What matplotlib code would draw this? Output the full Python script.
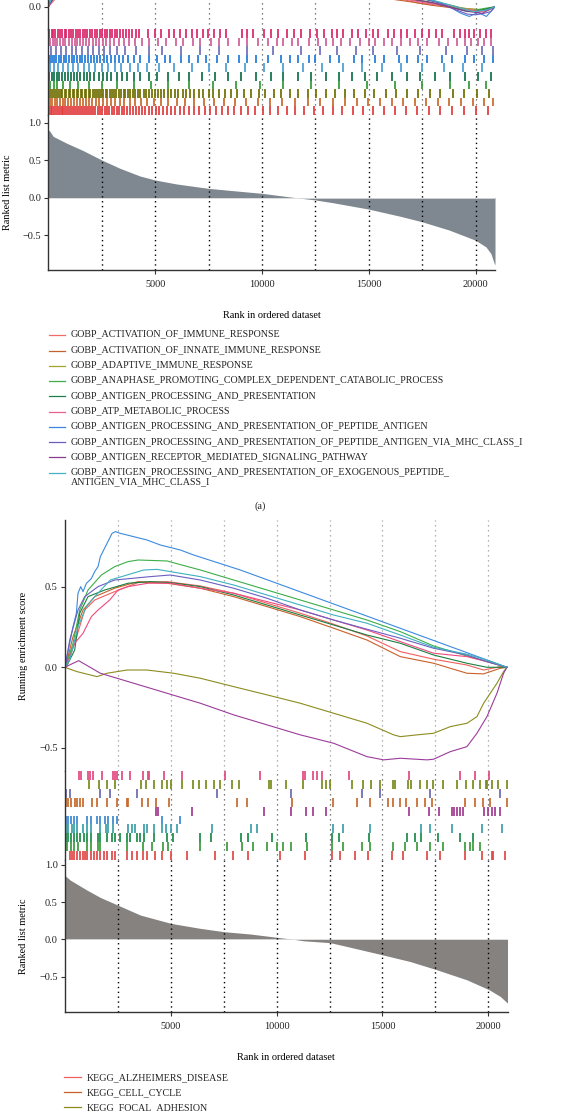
import matplotlib
matplotlib.use("Agg")
import matplotlib.pyplot as plt

plt.rcParams["font.family"] = ["Liberation Serif", "DejaVu Serif"]

W, H = 574, 1111
N_GENES = 20900
RANK_TICKS = [5000, 10000, 15000, 20000]
GUIDE_RANKS = [2500, 5000, 7500, 10000, 12500, 15000, 17500, 20000]

# ---------------- panel (a): GOBP ----------------
labels_a = [
    "GOBP_ACTIVATION_OF_IMMUNE_RESPONSE",
    "GOBP_ACTIVATION_OF_INNATE_IMMUNE_RESPONSE",
    "GOBP_ADAPTIVE_IMMUNE_RESPONSE",
    "GOBP_ANAPHASE_PROMOTING_COMPLEX_DEPENDENT_CATABOLIC_PROCESS",
    "GOBP_ANTIGEN_PROCESSING_AND_PRESENTATION",
    "GOBP_ATP_METABOLIC_PROCESS",
    "GOBP_ANTIGEN_PROCESSING_AND_PRESENTATION_OF_PEPTIDE_ANTIGEN",
    "GOBP_ANTIGEN_PROCESSING_AND_PRESENTATION_OF_PEPTIDE_ANTIGEN_VIA_MHC_CLASS_I",
    "GOBP_ANTIGEN_RECEPTOR_MEDIATED_SIGNALING_PATHWAY",
    "GOBP_ANTIGEN_PROCESSING_AND_PRESENTATION_OF_EXOGENOUS_PEPTIDE_\nANTIGEN_VIA_MHC_CLASS_I",
]
colors_a = ["#f26b6b", "#c4622d", "#a3a52a", "#3fae49", "#1b7f4b",
            "#ec5f93", "#3a87e0", "#6a5fc1", "#8b3a8f", "#42b3c4"]

# running enrichment score (rank, ES) -- only the tail is inside the picture
es_a_activation = [(0, 0), (900, 0.3), (3000, 0.5), (9000, 0.33), (14000, 0.13), (16400, 0.05),
                   (17300, 0.025), (18100, 0.012), (18900, 0.0), (19600, -0.012), (20300, -0.02), (20900, 0)]
es_a_innate = [(0, 0), (1000, 0.3), (3200, 0.49), (9000, 0.31), (14000, 0.12), (16200, 0.045),
               (17000, 0.03), (17900, 0.01), (18800, -0.005), (19700, -0.02), (20400, -0.025), (20900, 0)]
es_a_adaptive = [(0, 0), (1200, 0.25), (3500, 0.42), (10000, 0.24), (15000, 0.09), (17600, 0.03),
                 (18600, 0.008), (19500, -0.01), (20300, -0.018), (20900, 0)]
es_a_anaphase = [(0, 0), (1500, 0.4), (4000, 0.6), (11000, 0.3), (16000, 0.09), (18000, 0.035),
                 (19000, 0.005), (19800, -0.025), (20400, -0.01), (20900, 0)]
es_a_antigen = [(0, 0), (1500, 0.35), (3500, 0.55), (10500, 0.28), (16000, 0.07), (17800, 0.03),
                (18800, 0.0), (19600, -0.03), (20300, -0.02), (20900, 0)]
es_a_atp = [(0, 0), (2000, 0.3), (4500, 0.5), (11000, 0.25), (15800, 0.07), (17000, 0.04), (17800, 0.02),
            (18700, 0.012), (19500, -0.015), (20200, -0.03), (20600, -0.02), (20900, 0)]
es_a_peptide = [(0, 0), (1500, 0.72), (2800, 0.8), (12000, 0.35), (17000, 0.08), (18200, 0.03),
                (18900, -0.01), (19300, -0.04), (19700, -0.06), (20100, -0.035), (20500, -0.06), (20900, 0)]
es_a_mhc = [(0, 0), (1800, 0.55), (4000, 0.6), (12000, 0.3), (17000, 0.07), (18400, 0.02), (19100, -0.02),
            (19600, -0.045), (20000, -0.05), (20400, -0.04), (20700, -0.03), (20900, 0)]
es_a_receptor = [(0, 0), (2000, 0.45), (4000, 0.5), (12000, 0.25), (16500, 0.06), (18000, 0.025),
                 (19000, -0.01), (19700, -0.03), (20300, -0.04), (20900, 0)]
es_a_exogenous = [(0, 0), (1500, 0.5), (3500, 0.62), (12000, 0.3), (17000, 0.075), (18300, 0.03),
                  (19200, -0.005), (19900, -0.03), (20500, -0.02), (20900, 0)]
es_a = [es_a_activation, es_a_innate, es_a_adaptive, es_a_anaphase, es_a_antigen,
        es_a_atp, es_a_peptide, es_a_mhc, es_a_receptor, es_a_exogenous]

# hit barcodes, rows from top to bottom
bar_colors_a = ["#d8266a", "#cf5e98", "#6f6db9", "#1f7ad8", "#4b9fd0",
                "#0f7048", "#2f9a30", "#6e6e00", "#c8692a", "#e03a3a"]
hits_a_atp = [40, 150, 240, 330, 450, 540, 660, 760, 850, 980, 1080, 1170, 1290, 1380, 1500, 1620, 1710, 1830,
              1950, 2060, 2170, 2300, 2400, 2520, 2640, 2750, 2880, 3000, 3120, 3230, 3370, 3500, 3640, 3790,
              3920, 4080, 4240, 4650, 4980, 5290, 5650, 5860, 6180, 6450, 6700, 6980, 7250, 7480, 7760, 8050,
              8300, 9050, 9290, 9600, 10080, 10420, 10750, 11180, 11500, 11820, 12250, 12560, 12900, 13260,
              13520, 13790, 14200, 14480, 14880, 15180, 15420, 15880, 16190, 16480, 16800, 17150, 17480,
              17790, 18120, 18420, 18980, 19260, 19480, 19690, 19900, 20180, 20470, 20720]
hits_a_receptor = [90, 200, 330, 420, 560, 700, 800, 950, 1100, 1230, 1350, 1500, 1640, 1780, 1900, 2080, 2230,
                   2380, 2550, 2720, 2900, 3080, 3300, 3520, 3780, 4050, 4400, 4700, 5150, 5500, 5980, 6300,
                   6750, 7100, 7600, 8000, 8400, 8900, 9300, 9800, 10300, 10700, 11000, 11400, 11700, 12200,
                   12600, 13000, 13300, 13700, 14100, 14600, 15000, 15300, 15700, 16100, 16500, 16900, 17300,
                   17700, 18300, 18700, 19100, 19500, 19800, 20100, 20400, 20700]
hits_a_mhc = [120, 350, 600, 820, 1100, 1300, 1600, 1850, 2100, 2350, 2600, 2900, 3200, 3600, 4100, 4700,
              5300, 6200, 7100, 8000, 9300, 10500, 11800, 12700, 13500, 14400, 15200, 16300, 17400, 18600,
              19600, 20300, 20800]
hits_a_peptide = [60, 170, 260, 380, 500, 610, 730, 850, 970, 1100, 1220, 1350, 1470, 1600, 1740, 1870, 2000,
                  2150, 2290, 2430, 2600, 2750, 2930, 3100, 3300, 3500, 3750, 4000, 4300, 4700, 5100, 5450,
                  5700, 6200, 6600, 7000, 7400, 7900, 8400, 8900, 9300, 9700, 10300, 10900, 11300, 11700,
                  12200, 12500, 13200, 13600, 14300, 14700, 15300, 15700, 16400, 16800, 17300, 17700, 18400,
                  18900, 19500, 19900, 20400, 20800]
hits_a_exogenous = [100, 280, 450, 700, 900, 1150, 1400, 1650, 1900, 2200, 2500, 2800, 3100, 3400, 3800, 4200,
                    4600, 5200, 5900, 6700, 7500, 8300, 9200, 10100, 11000, 11900, 12800, 13800, 14700, 15600,
                    16500, 17500, 18500, 19400, 20300]
hits_a_antigen = [50, 160, 280, 400, 520, 650, 780, 900, 1050, 1200, 1350, 1500, 1650, 1800, 1950, 2150, 2350,
                  2550, 2750, 2950, 3200, 3450, 3700, 4000, 4300, 4700, 5100, 5600, 6100, 6600, 7200, 7800,
                  8400, 9000, 9700, 10400, 11000, 11700, 12300, 13000, 13600, 14200, 14800, 15400, 16100,
                  16800, 17400, 18100, 18800, 19500, 20100, 20700]
hits_a_anaphase = [80, 250, 420, 700, 1000, 1400, 1900, 2500, 3200, 4000, 4800, 5600, 6600, 7700, 8800, 9900,
                   11000, 12300, 13600, 14900, 16200, 17500, 18800, 19700, 20500]
hits_a_adaptive = [30, 120, 230, 300, 410, 480, 590, 660, 770, 850, 960, 1030, 1150, 1220, 1330, 1400, 1520,
                   1590, 1710, 1780, 1890, 1970, 2090, 2170, 2280, 2360, 2480, 2560, 2690, 2760, 2880, 2970,
                   3090, 3180, 3300, 3390, 3520, 3610, 3740, 3840, 3970, 4070, 4210, 4310, 4460, 4570, 4720,
                   4840, 5010, 5120, 5290, 5420, 5600, 5740, 5930, 6070, 6280, 6430, 6650, 6820, 7060, 7250,
                   7500, 7720, 8010, 8250, 8560, 8830, 9170, 9470, 9850, 10160, 10560, 10910, 11330, 11700,
                   12140, 12530, 12990, 13400, 13880, 14310, 14810, 15260, 15790, 16250, 16790, 17280, 17840,
                   18350, 18930, 19460, 20060, 20610]
hits_a_innate = [70, 180, 300, 420, 530, 680, 790, 930, 1060, 1190, 1330, 1460, 1610, 1750, 1900, 2060, 2210,
                 2390, 2560, 2740, 2930, 3130, 3340, 3560, 3800, 4050, 4330, 4620, 4930, 5270, 5620, 6000, 6410,
                 6820, 7270, 7730, 8220, 8740, 9250, 9800, 10380, 10950, 11530, 12130, 12720, 13310, 13880,
                 14420, 14960, 15520, 16060, 16610, 17150, 17680, 18230, 18770, 19300, 19850, 20390, 20820]
hits_a_activation = [20, 110, 190, 280, 360, 450, 530, 620, 710, 790, 880, 970, 1060, 1150, 1240, 1330, 1420,
                     1520, 1610, 1710, 1800, 1900, 2000, 2100, 2200, 2310, 2410, 2520, 2630, 2740, 2850, 2960,
                     3080, 3200, 3320, 3440, 3560, 3690, 3820, 3950, 4090, 4230, 4380, 4530, 4690, 4850, 5020,
                     5190, 5370, 5560, 5750, 5950, 6160, 6370, 6590, 6820, 7060, 7310, 7570, 7840, 8120, 8410,
                     8710, 9020, 9340, 9680, 10030, 10390, 10770, 11160, 11560, 11980, 12410, 12850, 13300,
                     13760, 14240, 14720, 15210, 15710, 16220, 16740, 17270, 17800, 18340, 18890, 19440,
                     20000, 20560]
hits_a = [hits_a_atp, hits_a_receptor, hits_a_mhc, hits_a_peptide, hits_a_exogenous,
          hits_a_antigen, hits_a_anaphase, hits_a_adaptive, hits_a_innate, hits_a_activation]

metric_rank_a = [0, 47, 234, 856, 1635, 2491, 3348, 4282, 4998, 5994, 7489, 8641, 10011, 10977, 11600,
                 12503, 13312, 14978, 16426, 17485, 18762, 19976, 20475, 20708, 20864, 20900]
metric_val_a = [0.9, 0.9, 0.82, 0.73, 0.63, 0.506, 0.394, 0.291, 0.237, 0.184, 0.125, 0.094, 0.058, 0.022,
                0.0, -0.031, -0.067, -0.152, -0.246, -0.322, -0.434, -0.568, -0.658, -0.748, -0.88, -0.9]

# ---------------- panel (b): KEGG ----------------
labels_b = ["KEGG_ALZHEIMERS_DISEASE", "KEGG_CELL_CYCLE", "KEGG_FOCAL_ADHESION"]
colors_b = ["#f25f5c", "#c8602a", "#8c8c1e", "#3cae48", "#1a8040",
            "#ef4a7f", "#3b8ae0", "#6b5fc2", "#9b3c9b", "#3fb0c0"]

es_b_red = [(0, 0), (79, 0.035), (472, 0.149), (944, 0.355), (1416, 0.417), (2360, 0.469), (3461, 0.525),
            (4829, 0.531), (6402, 0.504), (7975, 0.459), (9548, 0.397), (11121, 0.335), (12694, 0.267),
            (14267, 0.194), (15840, 0.097), (17413, 0.05), (18986, 0.014), (19773, -0.017), (20559, 0.004),
            (20873, 0)]
es_b_orange = [(0, 0), (79, 0.025), (393, 0.19), (865, 0.355), (1416, 0.438), (2360, 0.49), (3461, 0.531),
               (4829, 0.521), (6402, 0.49), (7975, 0.438), (9548, 0.376), (11121, 0.314), (12694, 0.242),
               (14267, 0.169), (15840, 0.066), (17413, 0.025), (18986, -0.037), (19773, -0.041),
               (20559, -0.006), (20873, 0)]
es_b_olive = [(0, 0), (582, -0.027), (1526, -0.058), (1998, -0.037), (2942, -0.017), (3885, -0.017),
              (4515, -0.027), (5144, -0.037), (6402, -0.068), (7975, -0.12), (9548, -0.171), (11121, -0.223),
              (12694, -0.285), (14267, -0.347), (15526, -0.419), (15840, -0.43), (16627, -0.419),
              (17413, -0.409), (18200, -0.368), (18986, -0.347), (19458, -0.306), (19773, -0.223),
              (20087, -0.161), (20402, -0.099), (20716, -0.027), (20873, 0)]
es_b_green = [(0, 0), (79, 0.014), (393, 0.149), (708, 0.355), (1101, 0.479), (1730, 0.572), (2360, 0.624),
              (2989, 0.655), (3461, 0.665), (4829, 0.659), (6402, 0.603), (7975, 0.541), (9548, 0.479),
              (11121, 0.417), (12694, 0.355), (14267, 0.293), (15840, 0.221), (17413, 0.132), (18986, 0.07),
              (19930, 0.035), (20873, 0)]
es_b_darkgreen = [(0, 0), (79, 0.004), (472, 0.107), (708, 0.335), (1101, 0.438), (1888, 0.479),
                  (2989, 0.521), (4043, 0.531), (4986, 0.525), (6402, 0.5), (7975, 0.448), (9548, 0.386),
                  (11121, 0.324), (12694, 0.262), (14267, 0.2), (15840, 0.149), (17413, 0.076),
                  (18986, 0.025), (19930, 0.0), (20873, 0)]
es_b_pink = [(0, 0), (79, 0.004), (472, 0.149), (865, 0.211), (1258, 0.314), (1573, 0.355), (2124, 0.417),
             (2517, 0.479), (2989, 0.5), (3933, 0.521), (4986, 0.521), (6402, 0.49), (7975, 0.459),
             (9548, 0.407), (11121, 0.355), (12694, 0.293), (14267, 0.231), (15840, 0.159), (17413, 0.087),
             (18986, 0.066), (19930, 0.035), (20873, 0)]
es_b_blue = [(0, 0), (236, 0.149), (393, 0.252), (550, 0.335), (629, 0.459), (755, 0.5),
             (865, 0.469), (1022, 0.52), (1258, 0.55), (1416, 0.593), (1573, 0.624), (1683, 0.686),
             (1998, 0.768), (2234, 0.83), (2391, 0.841), (2627, 0.83), (2942, 0.82), (3885, 0.789),
             (4515, 0.758), (5458, 0.727), (6087, 0.696), (8290, 0.603), (14000, 0.33), (20873, 0)]
es_b_indigo = [(0, 0), (79, 0.045), (236, 0.169), (629, 0.355), (944, 0.438), (1573, 0.5), (2360, 0.541),
               (4043, 0.562), (4986, 0.572), (6402, 0.541), (7975, 0.49), (9548, 0.428), (11121, 0.355),
               (12694, 0.293), (14267, 0.236), (15840, 0.18), (17413, 0.118), (18986, 0.076),
               (19930, 0.035), (20873, 0)]
es_b_magenta = [(0, 0), (661, 0.041), (1683, -0.037), (3256, -0.099), (4829, -0.161), (6402, -0.223),
                (7975, -0.295), (9548, -0.357), (11121, -0.419), (12694, -0.471), (14267, -0.554),
                (15054, -0.574), (15840, -0.564), (17099, -0.574), (17413, -0.57), (18200, -0.523),
                (18986, -0.492), (19458, -0.409), (19930, -0.306), (20402, -0.161), (20716, -0.037),
                (20873, 0)]
es_b_teal = [(0, 0), (236, 0.045), (629, 0.252), (1022, 0.376), (1416, 0.438), (2155, 0.541), (2942, 0.572),
             (3728, 0.603), (4357, 0.607), (4986, 0.593), (6402, 0.562), (7975, 0.51), (9548, 0.448),
             (11121, 0.386), (12694, 0.324), (14267, 0.273), (15840, 0.2), (17413, 0.124), (18986, 0.081),
             (19930, 0.045), (20873, 0)]
es_b = [es_b_red, es_b_orange, es_b_olive, es_b_green, es_b_darkgreen,
        es_b_pink, es_b_blue, es_b_indigo, es_b_magenta, es_b_teal]

bar_colors_b = ["#e04a80", "#7a8a1a", "#6a6ab0", "#c86a2a", "#a03c90",
                "#3a86d0", "#3aa0a8", "#1a8a4a", "#3a9a3a", "#e04848"]
hits_b_pink = [680, 760, 1120, 1200, 1320, 1760, 2300, 2380, 2460, 2720, 3080, 3680, 3950, 3980, 4690, 5550,
               7580, 9220, 11260, 11340, 11730, 11890, 12130, 13420, 16260, 18670, 19360, 20020]
hits_b_olive = [1165, 1604, 2012, 2375, 3617, 3823, 4215, 4609, 4814, 5003, 5553, 6070, 6340, 6655, 7063,
                7330, 7912, 8243, 9629, 9723, 10431, 11264, 12161, 12335, 12522, 13577, 14064, 14458, 14883,
                15511, 15590, 16219, 16331, 16771, 17086, 17400, 17871, 18502, 18943, 19286, 19603, 19886,
                19947, 20154, 20468, 20862]
hits_b_lavender = [47, 252, 1667, 2140, 3400, 7170, 10700, 14030, 14900, 17240, 20540]
hits_b_orange = [47, 173, 283, 488, 598, 723, 849, 1274, 1510, 2013, 2454, 2926, 3005, 3665, 3948, 4294,
                 4939, 8148, 8588, 10712, 12679, 13811, 14409, 15274, 15510, 15825, 16092, 16611, 17005,
                 17319, 18892, 19364, 19726, 20072, 20858]
hits_b_magenta = [4294, 4420, 6025, 9407, 10665, 11373, 11735, 12333, 16265, 17209, 17681, 18263, 18373,
                  18530, 18672, 18814, 19788, 19993, 20150, 20308, 20544]
hits_b_blue = [47, 173, 283, 440, 566, 1070, 1227, 1510, 1667, 1903, 2029, 2296, 2454, 4577, 5443]
hits_b_teal = [94, 173, 330, 440, 598, 881, 1038, 1227, 1667, 1951, 2061, 2297, 3004, 3162, 3319, 3744,
               3869, 4215, 4577, 4766, 5002, 5285, 6968, 8777, 9060, 12679, 13150, 14409, 16800, 17240,
               18263, 19679, 20623]
hits_b_darkgreen = [47, 173, 283, 440, 566, 724, 912, 1070, 1227, 1589, 1667, 1982, 2218, 2375, 2611, 2926,
                    3083, 3398, 3555, 3744, 4215, 4813, 5128, 6386, 6890, 8305, 8667, 9800, 11373, 12600,
                    12962, 14362, 16140, 16533, 16800, 17633, 18656, 19286]
hits_b_green = [94, 283, 440, 645, 1038, 1227, 1589, 1667, 2926, 3712, 4106, 4656, 4892, 6386, 7645, 8352,
                8903, 9532, 10004, 10319, 10665, 11420, 12600, 13150, 14016, 14409, 15510, 16060, 16611,
                17240, 17870, 18892, 19128, 19286, 19600]
hits_b_red = [252, 330, 440, 566, 724, 849, 960, 1070, 1227, 1384, 1542, 1667, 1856, 2013, 2218, 2375, 2926,
              3162, 3398, 3712, 3869, 4263, 4609, 5002, 5757, 7094, 7959, 8667, 10161, 11341, 12600, 12993,
              13701, 14330, 15431, 15982, 17083, 17712, 18892, 19679, 20150, 20229, 20780]
hits_b = [hits_b_pink, hits_b_olive, hits_b_lavender, hits_b_orange, hits_b_magenta,
          hits_b_blue, hits_b_teal, hits_b_darkgreen, hits_b_green, hits_b_red]

metric_rank_b = [0, 267, 1054, 1683, 2501, 3571, 5018, 6402, 7503, 8762, 10020, 10807, 11278, 12537, 13481,
                 15022, 16312, 17570, 18986, 20040, 20559, 20900]
metric_val_b = [0.86, 0.795, 0.661, 0.5625, 0.46, 0.326, 0.214, 0.147, 0.103, 0.071, 0.027, 0.0, -0.02,
                -0.045, -0.107, -0.21, -0.299, -0.41, -0.545, -0.679, -0.768, -0.857]

SPINE = "#333333"
FS = 7.4


def px_axes(fig, x0, y0, x1, y1):
    return fig.add_axes([x0 / W, 1 - y1 / H, (x1 - x0) / W, (y1 - y0) / H])


def style_left(ax):
    for s in ["top", "right", "bottom"]:
        ax.spines[s].set_visible(False)
    ax.spines["left"].set_color(SPINE)
    ax.spines["left"].set_linewidth(1.0)
    ax.tick_params(axis="y", direction="out", length=3, width=0.8, colors=SPINE, labelsize=FS,
                   labelcolor="#222222", pad=2)
    ax.tick_params(axis="x", bottom=False, labelbottom=False)


def draw_panel(fig, left, right, es_box, bar_box, rank_box, es_ylim, rank_ylim, es_curves, curve_colors,
               hits, bar_colors, m_rank, m_val, fill_color, es_guide, es_label):
    ax_es = px_axes(fig, left, es_box[0], right, es_box[1])
    ax_bar = px_axes(fig, left, bar_box[0], right, bar_box[1])
    ax_rank = px_axes(fig, left, rank_box[0], right, rank_box[1])

    # running enrichment score
    for g in GUIDE_RANKS:
        ax_es.axvline(g, color=es_guide, ls=(0, (1, 3)), lw=0.9, zorder=0)
    for pts, c in zip(es_curves, curve_colors):
        ax_es.plot([p[0] for p in pts], [p[1] for p in pts], color=c, lw=0.8)
    ax_es.set_yticks([-0.5, 0.0, 0.5])
    ax_es.set_yticklabels(["\u22120.5", "0.0", "0.5"])
    ax_es.set_xlim(0, N_GENES)
    ax_es.set_ylim(*es_ylim)
    style_left(ax_es)
    if es_label:
        ax_es.set_ylabel("Running enrichment score", fontsize=FS, labelpad=8)

    # hit barcodes
    for g in GUIDE_RANKS:
        ax_bar.axvline(g, color="#555555", ls=(0, (1, 3)), lw=0.9, zorder=0)
    for i, (h, c) in enumerate(zip(hits, bar_colors)):
        ax_bar.vlines(h, i, i + 1, color=c, lw=1.25)
    ax_bar.set_xlim(0, N_GENES)
    ax_bar.set_ylim(len(hits), 0)
    style_left(ax_bar)
    ax_bar.set_yticks([])

    # ranked list metric
    ax_rank.fill_between(m_rank, m_val, 0, color=fill_color, lw=0)
    ax_rank.axhline(0, color="#dddddd", lw=0.6)
    for g in GUIDE_RANKS:
        ax_rank.axvline(g, color="black", ls=(0, (1, 2.5)), lw=1.0, zorder=3)
    ax_rank.set_yticks([-0.5, 0.0, 0.5, 1.0])
    ax_rank.set_yticklabels(["\u22120.5", "0.0", "0.5", "1.0"])
    ax_rank.set_xticks(RANK_TICKS)
    ax_rank.set_xlim(0, N_GENES)
    ax_rank.set_ylim(*rank_ylim)
    style_left(ax_rank)
    ax_rank.spines["bottom"].set_visible(True)
    ax_rank.spines["bottom"].set_color(SPINE)
    ax_rank.spines["bottom"].set_linewidth(1.0)
    ax_rank.tick_params(axis="x", bottom=True, labelbottom=True, direction="out", length=3, width=0.8,
                        colors=SPINE, labelsize=FS, labelcolor="#222222", pad=4)
    ax_rank.set_ylabel("Ranked list metric", fontsize=FS, labelpad=8)
    ax_rank.set_xlabel("Rank in ordered dataset", fontsize=FS, labelpad=16)
    return ax_es, ax_bar, ax_rank


fig = plt.figure(figsize=(W / 100, H / 100), dpi=100)

draw_panel(fig, 48.3, 495, (-138, 29), (29, 115), (115, 270), (-0.138, 0.9), (-0.968, 1.107),
           es_a, colors_a, hits_a, bar_colors_a, metric_rank_a, metric_val_a, "#7f8790", "#555555", False)

draw_panel(fig, 64.7, 507.5, (520, 771), (771, 860), (860, 1012.3), (-0.643, 0.913), (-0.981, 1.066),
           es_b, colors_b, hits_b, bar_colors_b, metric_rank_b, metric_val_b, "#858280", "#9a9a9a", True)

# legends drawn by hand in pixel coordinates
LEG_FS = 7.2
leg_a_y = [335, 350.7, 366, 381, 396.3, 411.7, 427, 442.3, 457.3, 472.7]
for lab, c, y in zip(labels_a, colors_a, leg_a_y):
    fig.add_artist(plt.Line2D([49 / W, 65 / W], [1 - y / H, 1 - y / H], color=c, lw=0.9))
    fig.text(71 / W, 1 - (y - 5.5) / H, lab, fontsize=LEG_FS, va="top", ha="left", color="#222222",
             linespacing=1.15)

fig.text(260 / W, 1 - 505.7 / H, "(a)", fontsize=FS, ha="center", va="center", color="#222222")

leg_b_y = [1077.3, 1092.3, 1107.3]
for lab, c, y in zip(labels_b, colors_b, leg_b_y):
    fig.add_artist(plt.Line2D([64 / W, 81 / W], [1 - y / H, 1 - y / H], color=c, lw=0.9))
    fig.text(87 / W, 1 - y / H, lab, fontsize=LEG_FS, va="center", ha="left", color="#222222")

fig.savefig("out.png", dpi=100)
